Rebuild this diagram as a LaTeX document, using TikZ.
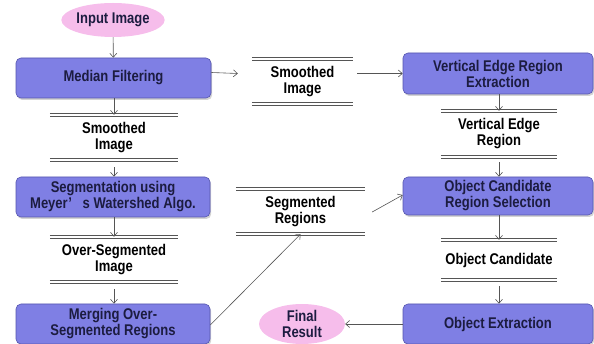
\documentclass[tikz,border=0pt]{standalone}
\usepackage{fontspec}
\setmainfont{Liberation Sans}[FakeStretch=0.84]
\usetikzlibrary{shapes.geometric,arrows.meta,shadows}
\definecolor{boxfill}{HTML}{7F7FE4}
\definecolor{boxdraw}{HTML}{5656AE}
\definecolor{boxtext}{HTML}{1C1C40}
\definecolor{pinkfill}{HTML}{F6BDEB}
\definecolor{linegray}{HTML}{555555}
\tikzset{
  lbl/.style={font=\fontsize{15.5}{16}\selectfont\bfseries, align=center, inner sep=0pt},
  procbox/.style={lbl, rectangle, rounded corners=5pt, fill=boxfill, draw=boxdraw, line width=0.6pt,
    text=boxtext, drop shadow={opacity=0.35, shadow xshift=1.2pt, shadow yshift=-2pt}},
  termnode/.style={lbl, ellipse, fill=pinkfill, draw=none, text=boxtext},
  store/.style={lbl, rectangle, text=black},
  storeline/.style={draw=linegray, double=white, double distance=1.6pt, line width=1.1pt},
  flow/.style={draw=linegray, line width=0.6pt, -{Straight Barb[length=4pt,width=7pt]}},
}
\begin{document}
\begin{tikzpicture}[x=1pt,y=-1pt]
\useasboundingbox (0,0) rectangle (594,344);
% left column
\node[termnode, minimum width=89pt, minimum height=34pt] (input) at (113,20) {Input Image};
\node[procbox, minimum width=195pt, minimum height=40pt] (median) at (113.5,78) {Median Filtering};
\node[store, minimum width=128pt, minimum height=45pt] (sm1) at (114,137.5) {Smoothed\\Image};
\node[procbox, minimum width=194pt, minimum height=40pt] (seg) at (113,197) {Segmentation using\\Meyer’\hspace{0.7em}s Watershed Algo.};
\node[store, minimum width=128pt, minimum height=45pt] (overseg) at (114,259.5) {Over-Segmented\\Image};
\node[procbox, minimum width=194pt, minimum height=40pt] (merge) at (113,324) {Merging Over-\\Segmented Regions};
% middle column
\node[store, minimum width=101pt, minimum height=45pt] (sm2) at (302.5,81.5) {Smoothed\\Image};
\node[store, minimum width=129pt, minimum height=45pt] (segreg) at (300.5,211.5) {Segmented\\Regions};
\node[termnode, minimum width=86pt, minimum height=40pt] (final) at (302,324) {Final\\Result};
% right column
\node[procbox, minimum width=190pt, minimum height=41pt] (vedge) at (498,73.5) {Vertical Edge Region\\Extraction};
\node[store, minimum width=116pt, minimum height=46pt] (veregion) at (499,134) {Vertical Edge\\Region};
\node[procbox, minimum width=190pt, minimum height=38pt] (ocsel) at (498,196) {Object Candidate\\Region Selection};
\node[store, minimum width=116pt, minimum height=40pt] (oc) at (499,260) {Object Candidate};
\node[procbox, minimum width=190pt, minimum height=40pt] (oext) at (498,324) {Object Extraction};
% store lines
\foreach \s in {sm1,overseg,sm2,segreg,veregion,oc}{
  \draw[storeline] (\s.north west) -- (\s.north east);
  \draw[storeline] (\s.south west) -- (\s.south east);
}
% connectors
\draw[flow] (input) -- (median);
\draw[flow] (median.south -| sm1.north) -- (sm1.north);
\draw[flow] ([yshift=-7pt]sm1.south) -- (seg.north -| sm1.south);
\draw[flow] (seg.south -| overseg.north) -- (overseg.north);
\draw[flow] ([yshift=-7pt]overseg.south) -- (merge.north -| overseg.south);
\draw[flow] ([yshift=-1pt]merge.east) -- (segreg.south);
\draw[flow] ([xshift=7pt,yshift=-0.5pt]segreg.east) -- ([yshift=1pt]ocsel.west);
\draw[flow] (median.east |- vedge.west) ++(0,-1) -- ([xshift=-14pt]sm2.west |- vedge.west);
\draw[flow] ([xshift=4pt]sm2.east |- vedge.west) -- (vedge.west);
\draw[flow] (vedge.south -| veregion.north) -- (veregion.north);
\draw[flow] ([yshift=-5pt]veregion.south) -- (ocsel.north -| veregion.south);
\draw[flow] (ocsel.south -| oc.north) -- (oc.north);
\draw[flow] ([yshift=-6pt]oc.south) -- (oext.north -| oc.south);
\draw[flow] (oext.west) -- (final.east);
\end{tikzpicture}
\end{document}
